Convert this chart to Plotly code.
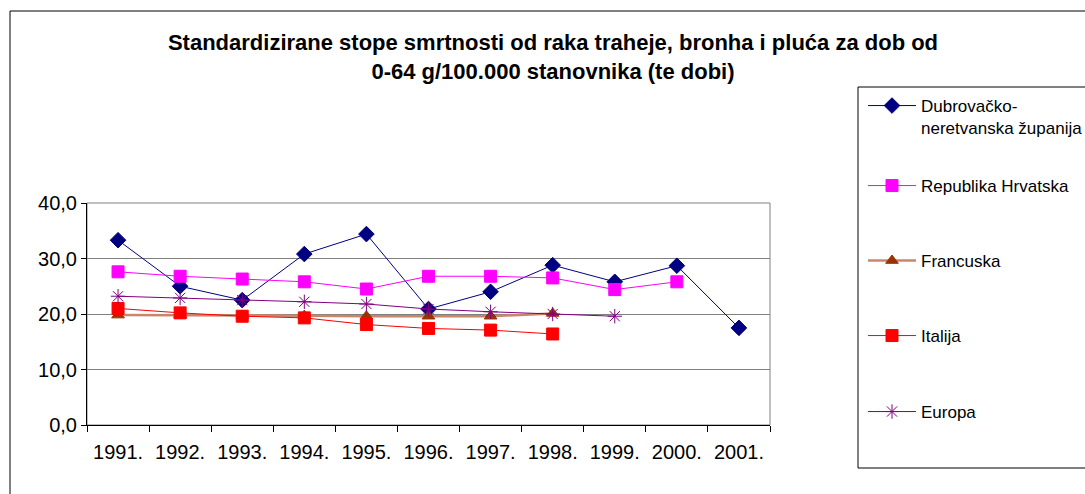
import plotly.graph_objects as go

years = ["1991.", "1992.", "1993.", "1994.", "1995.", "1996.", "1997.", "1998.", "1999.", "2000.", "2001."]

dubrovacko = [33.3, 25.0, 22.5, 30.8, 34.4, 20.9, 24.0, 28.8, 25.8, 28.7, 17.5]
hrvatska = [27.6, 26.8, 26.3, 25.8, 24.5, 26.8, 26.8, 26.5, 24.4, 25.8, None]
francuska = [19.8, 19.8, 19.7, 19.7, 19.6, 19.6, 19.6, 20.1, None, None, None]
italija = [21.0, 20.2, 19.6, 19.3, 18.1, 17.4, 17.1, 16.4, None, None, None]
europa = [23.2, 22.9, 22.5, 22.2, 21.8, 20.9, 20.4, 20.0, 19.6, None, None]

names = ["Dubrovačko-<br>neretvanska županija", "Republika Hrvatska", "Francuska", "Italija", "Europa"]

FONT = "Liberation Sans, Arial, sans-serif"

fig = go.Figure()

specs = [
    (dubrovacko, names[0], "#000080", "#000080", "diamond", 12, 1),
    (hrvatska, names[1], "#FF00FF", "#FF00FF", "square", 12, 1),
    (francuska, names[2], "#C8866B", "#993300", "triangle-up", 11, 2.5),
    (italija, names[3], "#FF0000", "#FF0000", "square", 12, 1),
    (europa, names[4], "#800080", "#800080", "asterisk-open", 12, 1),
]

legend_ids = ["legend", "legend2", "legend3", "legend4", "legend5"]

for i, (vals, name, lc, mc, sym, ms, lw) in enumerate(specs):
    fig.add_trace(go.Scatter(
        x=years, y=vals, name=name, mode="lines+markers",
        legend=legend_ids[i], showlegend=True,
        line=dict(color=lc, width=lw),
        marker=dict(symbol=sym, size=ms, color=mc, line=dict(color=mc, width=1)),
        connectgaps=False,
    ))

L, R, T, B = 87, 770, 203, 425
W, H = 1085, 494
pw, ph = R - L, B - T

def px(x):
    return (x - L) / pw

def py(y):
    return 1 - (y - T) / ph

shapes = [
    # outer chart frame
    dict(type="rect", xref="paper", yref="paper", x0=px(10), x1=px(1100), y0=py(500), y1=py(11),
         line=dict(color="#000000", width=1), layer="below"),
    # plot area border
    dict(type="rect", xref="paper", yref="paper", x0=0, x1=1, y0=0, y1=1,
         line=dict(color="#808080", width=1), layer="below"),
    # legend box
    dict(type="rect", xref="paper", yref="paper", x0=px(858), x1=px(1100), y0=py(468), y1=py(87),
         line=dict(color="#000000", width=1), layer="below"),
]

legend_tops = [88, 168, 243, 318, 394]
legend_layouts = {}
for lid, top in zip(legend_ids, legend_tops):
    legend_layouts[lid] = dict(
        xref="container", yref="container",
        x=863 / W, y=1 - top / H, xanchor="left", yanchor="top",
        bgcolor="rgba(0,0,0,0)", borderwidth=0,
        font=dict(family=FONT, size=17, color="black"),
        valign="top", itemwidth=48, maxheight=450,
    )

fig.update_layout(
    width=W, height=H,
    showlegend=True,
    margin=dict(l=L, r=W - R, t=T, b=H - B, autoexpand=False),
    paper_bgcolor="white", plot_bgcolor="white",
    font=dict(family=FONT, size=18, color="black"),
    separators=", ",
    title=dict(
        text="<b>Standardizirane stope smrtnosti od raka traheje, bronha i pluća za dob od<br>0-64 g/100.000 stanovnika (te dobi)</b>",
        x=553 / W, xanchor="center", y=1 - 50 / H, yanchor="top",
        font=dict(family=FONT, size=22, color="black"),
    ),
    xaxis=dict(
        type="category", categoryorder="array", categoryarray=years,
        range=[-0.5, len(years) - 0.5],
        showgrid=False, showline=True, linecolor="black", linewidth=1,
        ticks="outside", ticklen=6, tickcolor="black", tickson="boundaries",
        tickfont=dict(family=FONT, size=20), ticklabelstandoff=9,
        zeroline=False,
    ),
    yaxis=dict(
        range=[0, 40], dtick=10, tickformat=".1f",
        showgrid=True, gridcolor="#808080", gridwidth=1,
        showline=True, linecolor="black", linewidth=1,
        ticks="outside", ticklen=5, tickcolor="black",
        tickfont=dict(family=FONT, size=20), zeroline=False,
    ),
    shapes=shapes,
    **legend_layouts,
)

fig.write_html("out.html", config={"displayModeBar": False},
               post_script="document.body.style.margin='0';")
